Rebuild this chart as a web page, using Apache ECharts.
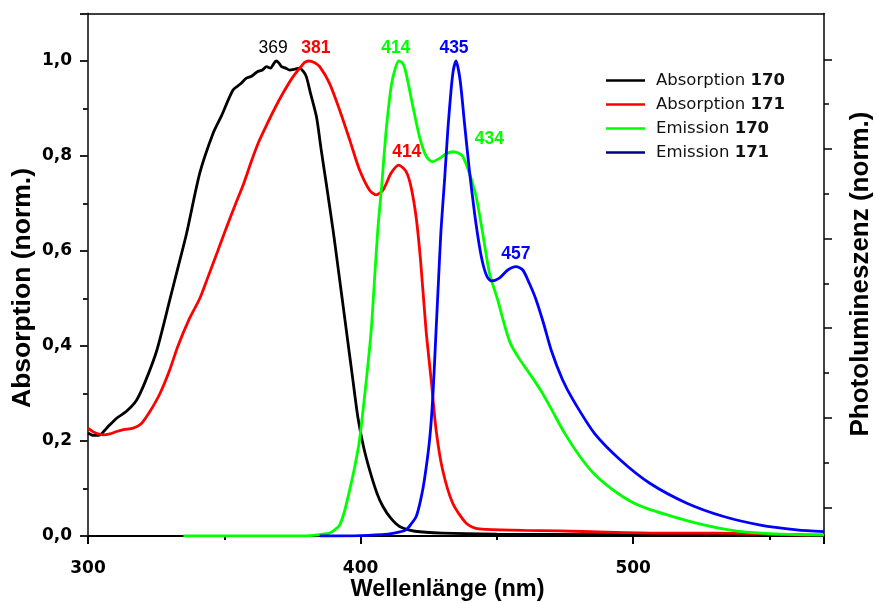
<!DOCTYPE html>
<html>
<head>
<meta charset="utf-8">
<script src="https://cdn.jsdelivr.net/npm/echarts@6/dist/echarts.min.js"></script>
<style>
  html, body { margin: 0; padding: 0; background: #fff; }
  #chart { width: 877px; height: 603px; }
</style>
</head>
<body>
<div id="chart"></div>
<script>
// Wavelength axis (nm)
const xMin = 300;
const xMax = 570;
const xTickStep = 100;

// Absorption 170
const abs170Nm  = [300, 302, 304.4, 307, 310.5, 314, 317.8, 321, 325.2, 330, 333, 336.2, 341, 345.9, 349, 353.2, 356, 358.1, 360, 362, 364, 365.5, 367, 368, 369, 370, 371, 372.5, 374, 376, 377.7, 379, 380.1, 381.5, 383.8, 385.5, 387.4, 389.9, 391, 393, 395, 397, 399, 401, 403.3, 406, 408.2, 411, 414.3, 420, 430, 450, 500, 570];
const abs170Val = [0.217, 0.212, 0.213, 0.228, 0.248, 0.262, 0.286, 0.325, 0.39, 0.497, 0.565, 0.638, 0.764, 0.848, 0.885, 0.939, 0.952, 0.964, 0.968, 0.977, 0.981, 0.988, 0.985, 0.993, 1.0, 0.996, 0.988, 0.985, 0.981, 0.983, 0.985, 0.978, 0.967, 0.935, 0.883, 0.815, 0.742, 0.644, 0.597, 0.51, 0.423, 0.336, 0.25, 0.19, 0.139, 0.09, 0.062, 0.038, 0.02, 0.01, 0.006, 0.004, 0.003, 0.002];

// Absorption 171
const abs171Nm  = [300, 302, 305.6, 308, 310.5, 313, 316.6, 319.6, 322.7, 326.4, 330, 333, 337, 341, 344, 347.6, 350.5, 354.2, 357, 360, 362.5, 365.5, 368.5, 371.5, 375, 377.7, 379.5, 381, 383, 385, 388.6, 392.3, 396, 399.6, 403.3, 405.7, 408.2, 411.2, 414, 416.7, 418.5, 420.4, 422, 424, 425.9, 427.7, 430.1, 433.8, 438.7, 442.3, 446, 460, 472.9, 490, 509.5, 530, 542.5, 553, 565];
const abs171Val = [0.227, 0.219, 0.213, 0.215, 0.22, 0.224, 0.227, 0.237, 0.262, 0.30, 0.35, 0.40, 0.455, 0.50, 0.545, 0.60, 0.645, 0.70, 0.74, 0.79, 0.828, 0.865, 0.9, 0.932, 0.965, 0.985, 0.997, 1.0, 0.997, 0.988, 0.953, 0.897, 0.834, 0.771, 0.728, 0.718, 0.728, 0.764, 0.781, 0.767, 0.735, 0.67, 0.58, 0.434, 0.328, 0.223, 0.139, 0.069, 0.027, 0.016, 0.014, 0.012, 0.011, 0.008, 0.006, 0.006, 0.005, 0.003, 0.002];

// Emission 170
const em170Nm  = [335, 380, 385, 388.6, 390.5, 392.3, 394, 396, 398, 399.6, 402.1, 403.9, 405, 406.3, 407.6, 409.4, 411.2, 412.5, 414, 415.5, 416.7, 419.2, 421.6, 424.1, 426.3, 428.9, 431.5, 434, 436, 437.5, 439.9, 442.4, 444.8, 447.3, 450.3, 452.5, 455, 458, 461, 464, 467, 470, 475, 480.4, 485.8, 492.6, 499.3, 506, 512.8, 520, 526.3, 533, 539.8, 550, 560, 570];
const em170Val = [0, 0, 0.003, 0.006, 0.013, 0.023, 0.05, 0.097, 0.15, 0.202, 0.328, 0.434, 0.53, 0.644, 0.728, 0.855, 0.946, 0.98, 1.0, 0.995, 0.974, 0.904, 0.841, 0.799, 0.788, 0.795, 0.805, 0.809, 0.806, 0.799, 0.764, 0.714, 0.637, 0.553, 0.497, 0.45, 0.405, 0.375, 0.35, 0.325, 0.298, 0.267, 0.215, 0.168, 0.13, 0.097, 0.072, 0.056, 0.044, 0.032, 0.023, 0.015, 0.009, 0.005, 0.003, 0.002];

// Emission 171
const em171Nm  = [385, 400, 410, 414, 416.7, 418.5, 420.4, 422, 423.4, 425.3, 426.5, 427.7, 428.6, 429.5, 430.8, 432, 433.2, 434, 435, 436.5, 438.1, 439.9, 441.8, 443.6, 445, 446.5, 448, 450.9, 454, 457, 459.5, 461.9, 464.4, 467, 470, 474, 478, 485.8, 495.3, 506.1, 519.7, 533.2, 546.7, 560, 570];
const em171Val = [0, 0.001, 0.004, 0.008, 0.013, 0.025, 0.041, 0.075, 0.118, 0.202, 0.293, 0.434, 0.54, 0.644, 0.749, 0.855, 0.939, 0.98, 1.0, 0.96, 0.87, 0.77, 0.68, 0.61, 0.57, 0.545, 0.537, 0.543, 0.56, 0.567, 0.56, 0.532, 0.497, 0.45, 0.39, 0.33, 0.286, 0.216, 0.16, 0.111, 0.069, 0.041, 0.023, 0.013, 0.009];

// Peak wavelengths that carry a label
const abs170Peaks = [369];
const abs171Peaks = [381, 414];
const em170Peaks  = [414, 434];
const em171Peaks  = [435, 457];

// Left axis tick labels
const yTickLabels = ['0,0', '0,2', '0,4', '0,6', '0,8', '1,0'];

// Right (photoluminescence) axis tick positions
const plMajorTicks = [0.0602, 0.2488, 0.4375, 0.6261, 0.8147, 1.0034];
const plMinorTicks = [0.1545, 0.3432, 0.5318, 0.7204, 0.909];

const seriesNames = ['Absorption 170', 'Absorption 171', 'Emission 170', 'Emission 171'];
const seriesColors = ['#000000', '#ff0000', '#00ff00', '#0000ff'];
const legendColors = ['#000000', '#ff0000', '#00ff00', '#000080'];

// label placement per peak (horizontal shift) and weight
const peakLabelStyle = {
  'Absorption 170': { 369: { dx: -3, weight: 'normal' } },
  'Absorption 171': { 381: { dx: 7 }, 414: { dx: 8 } },
  'Emission 170':   { 414: { dx: -3 }, 434: { dx: 36 } },
  'Emission 171':   { 435: { dx: -2 }, 457: { dx: 0 } }
};

function buildData(name, nm, val, peaks, color) {
  return nm.map(function (x, i) {
    if (peaks.indexOf(x) >= 0) {
      const st = peakLabelStyle[name][x] || {};
      return {
        value: [x, val[i]],
        label: {
          show: true,
          position: 'top',
          distance: 4,
          offset: [st.dx || 0, 0],
          formatter: function (p) { return String(p.value[0]); },
          color: color,
          fontFamily: 'Liberation Sans, Arial, sans-serif',
          fontWeight: st.weight || 'bold',
          fontSize: 17.5
        }
      };
    }
    return [x, val[i]];
  });
}

const seriesSrc = [
  [abs170Nm, abs170Val, abs170Peaks],
  [abs171Nm, abs171Val, abs171Peaks],
  [em170Nm, em170Val, em170Peaks],
  [em171Nm, em171Val, em171Peaks]
];

const chart = echarts.init(document.getElementById('chart'), null, { renderer: 'canvas' });

const tickFont = {
  color: '#000',
  fontFamily: 'DejaVu Sans, sans-serif',
  fontWeight: 'bold',
  fontSize: 17
};
const titleStyle = {
  fill: '#000',
  fontFamily: 'Liberation Sans, Arial, sans-serif',
  fontWeight: 'bold',
  align: 'center',
  verticalAlign: 'middle'
};

const option = {
  animation: false,
  backgroundColor: '#ffffff',
  grid: { left: 88, right: 53, top: 13.5, bottom: 67, containLabel: false },
  graphic: [
    {
      type: 'text', x: 447.5, y: 590, silent: true,
      style: Object.assign({ text: 'Wellenlänge (nm)', fontSize: 23.5 }, titleStyle)
    },
    {
      type: 'text', x: 23, y: 288, rotation: Math.PI / 2, silent: true,
      style: Object.assign({ text: 'Absorption (norm.)', fontSize: 26.5 }, titleStyle)
    },
    {
      type: 'text', x: 860.5, y: 274, rotation: Math.PI / 2, silent: true,
      style: Object.assign({ text: 'Photolumineszenz (norm.)', fontSize: 26 }, titleStyle)
    }
  ],
  legend: {
    orient: 'vertical',
    left: 601,
    top: 67,
    icon: 'rect',
    itemWidth: 39,
    itemHeight: 2.5,
    itemGap: 7,
    selectedMode: false,
    data: seriesNames.map(function (n, i) {
      return { name: n, itemStyle: { color: legendColors[i] } };
    }),
    formatter: function (n) {
      const parts = n.split(' ');
      return '{a|' + parts[0] + ' }{b|' + parts[1] + '}';
    },
    textStyle: {
      lineHeight: 17,
      padding: [0, 0, 0, 6],
      rich: {
        a: { fontFamily: 'DejaVu Sans, sans-serif', fontSize: 16.5, color: '#111', lineHeight: 17 },
        b: { fontFamily: 'DejaVu Sans, sans-serif', fontSize: 16.5, fontWeight: 'bold', color: '#111', lineHeight: 17 }
      }
    }
  },
  xAxis: [
    {
      type: 'value',
      min: xMin,
      max: xMax,
      interval: xTickStep,
      axisLine: { show: true, onZero: false, lineStyle: { color: '#000', width: 2 } },
      axisTick: { show: true, inside: false, length: 8, lineStyle: { color: '#000', width: 2 } },
      minorTick: { show: true, splitNumber: 2, length: 4, lineStyle: { color: '#000', width: 2 } },
      axisLabel: Object.assign({ margin: 24, showMaxLabel: false }, tickFont),
      splitLine: { show: false },
      minorSplitLine: { show: false }
    },
    {
      type: 'value',
      position: 'top',
      min: xMin,
      max: xMax,
      axisLine: { show: true, onZero: false, lineStyle: { color: '#000', width: 1.5 } },
      axisTick: { show: false },
      axisLabel: { show: false },
      splitLine: { show: false }
    }
  ],
  yAxis: [
    {
      type: 'value',
      position: 'left',
      min: 0,
      max: 1.1,
      interval: 0.2,
      axisLine: { show: true, onZero: false, lineStyle: { color: '#444', width: 2 } },
      axisTick: { show: true, inside: false, length: 8, lineStyle: { color: '#222', width: 2 } },
      minorTick: { show: true, splitNumber: 2, length: 5, lineStyle: { color: '#222', width: 2 } },
      axisLabel: Object.assign({
        margin: 16,
        showMaxLabel: false,
        formatter: function (v) {
          const idx = Math.round(v / 0.2);
          return Math.abs(v - idx * 0.2) < 1e-6 ? (yTickLabels[idx] || '') : '';
        }
      }, tickFont),
      splitLine: { show: false },
      minorSplitLine: { show: false }
    },
    {
      type: 'value',
      position: 'right',
      min: 0,
      max: 1.1,
      axisLine: { show: true, onZero: false, lineStyle: { color: '#000', width: 1.5 } },
      axisTick: { show: true, inside: false, length: 8, customValues: plMajorTicks, lineStyle: { color: '#000', width: 1.5 } },
      axisLabel: { show: false },
      splitLine: { show: false }
    },
    {
      type: 'value',
      position: 'right',
      min: 0,
      max: 1.1,
      axisLine: { show: false },
      axisTick: { show: true, inside: false, length: 5, customValues: plMinorTicks, lineStyle: { color: '#000', width: 1.5 } },
      axisLabel: { show: false },
      splitLine: { show: false }
    }
  ],
  series: seriesSrc.map(function (s, i) {
    return {
      name: seriesNames[i],
      type: 'line',
      xAxisIndex: 0,
      yAxisIndex: 0,
      data: buildData(seriesNames[i], s[0], s[1], s[2], seriesColors[i]),
      smooth: 0.25,
      symbol: 'circle',
      symbolSize: 0,
      showSymbol: true,
      silent: true,
      color: seriesColors[i],
      lineStyle: { color: seriesColors[i], width: 2.8 },
      itemStyle: { color: seriesColors[i] },
      emphasis: { disabled: true },
      z: 2 + i
    };
  })
};

chart.setOption(option);
</script>
</body>
</html>
